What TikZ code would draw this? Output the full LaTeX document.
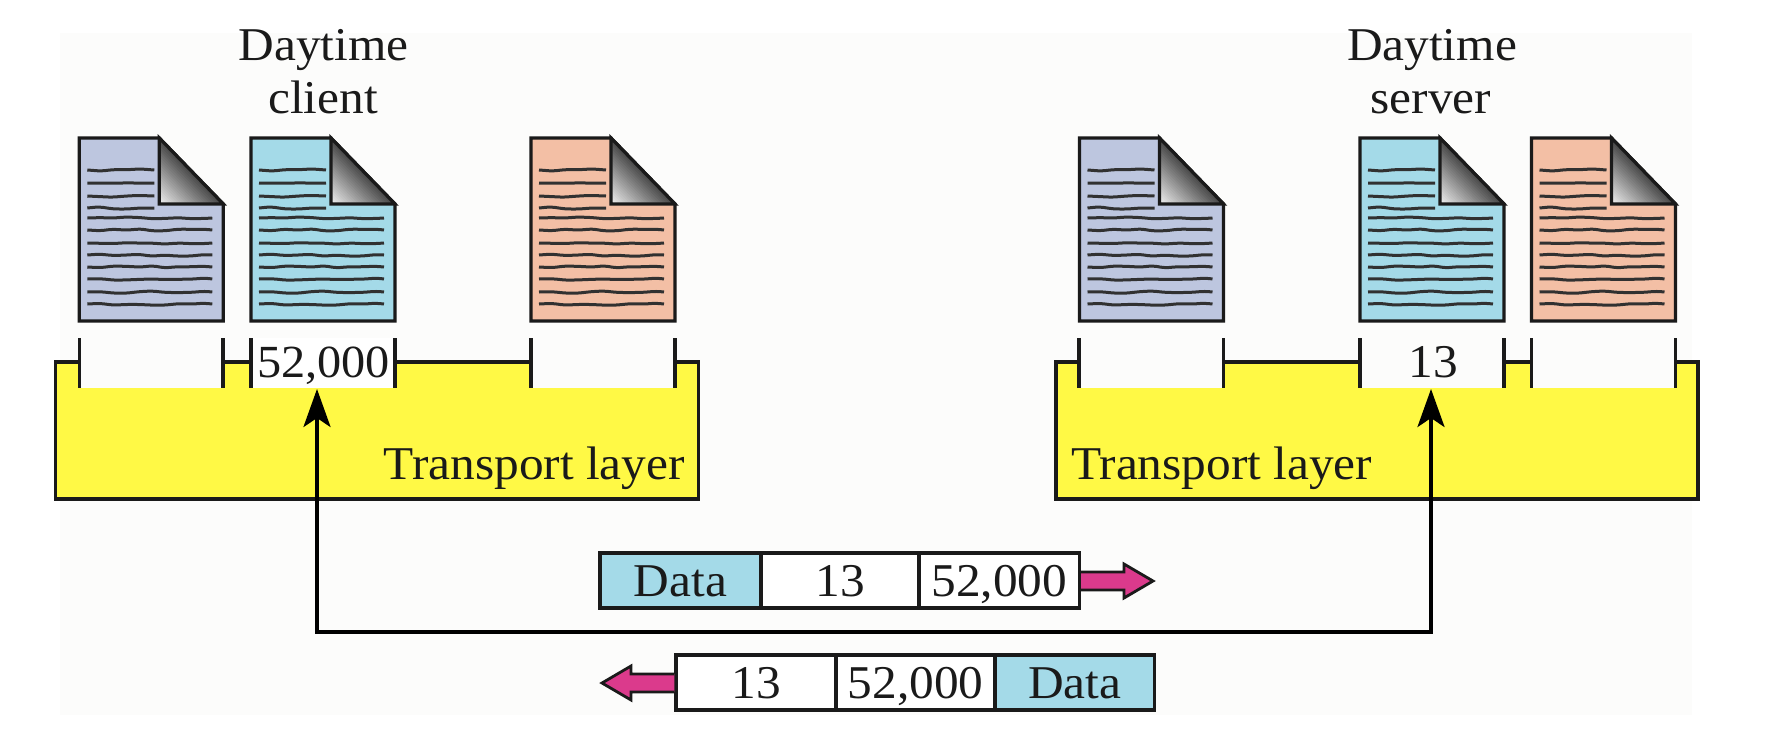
\documentclass[tikz,border=0pt]{standalone}
\usepackage{fontspec}
\setmainfont[FakeStretch=1.05]{Liberation Serif}
\usetikzlibrary{arrows.meta,decorations.pathmorphing}
\definecolor{inkc}{HTML}{1A1A1A}
\definecolor{bgc}{HTML}{FCFCFB}
\definecolor{docslate}{HTML}{BDC6DF}
\definecolor{docblue}{HTML}{A4DAE8}
\definecolor{docpeach}{HTML}{F3BFA5}
\definecolor{layerc}{HTML}{FFF945}
\definecolor{pinkc}{HTML}{DB3A8C}
\tikzset{
  x=1pt,y=-1pt,
  lbl/.style={font=\fontsize{47}{50}\selectfont,text=inkc,inner sep=0pt,anchor=base},
  cell/.style={draw=inkc,line width=3.2pt,minimum height=55pt,inner sep=0pt,
    font=\fontsize{47}{50}\selectfont,text=inkc,text height=31pt,text depth=0pt},
  wire/.style={draw=inkc,line width=3.2pt},
  flow/.style={draw=black,line width=3.6pt},
  pinkarrow/.style={draw=inkc,line width=2.8pt,fill=pinkc,line join=miter},
  txtline/.style={draw=inkc!90!white,line width=3pt,decorate,
    decoration={random steps,segment length=13pt,amplitude=1.2pt},rounded corners=4pt},
  docpic/.pic={
    \pgfmathsetseed{4711}
    \draw[wire,fill=#1,line join=miter] (0,0) -- (80,0) -- (144,66) -- (144,183) -- (0,183) -- cycle;
    \begin{scope}
      \clip (80,0) -- (144,66) -- (80,66) -- cycle;
      \foreach \tt in {0,1,...,24}{
        \pgfmathsetmacro{\pp}{4+68*\tt/24}
        \pgfmathsetmacro{\cx}{80+32*\tt/24}
        \pgfmathsetmacro{\cy}{66-33*\tt/24}
        \draw[line width=2.8pt,draw=black!\pp] (\cx-64,\cy-66) -- (\cx+64,\cy+66);
      }
    \end{scope}
    \draw[wire,line join=miter] (80,0) -- (144,66) -- (80,66) -- cycle;
    \foreach \yy in {32,45,58,70} \draw[txtline] (8,\yy) -- (75,\yy);
    \foreach \yy in {80,92,105,117,129,141,154,166} \draw[txtline] (8,\yy) -- (133,\yy);
  }
}
\newcommand{\portticks}[2]{%
  \draw[wire] (#1,338) -- (#1,388);
  \draw[wire] (#2,338) -- (#2,388);}
\begin{document}
\begin{tikzpicture}
\useasboundingbox (0,0) rectangle (1780,752);
\fill[white] (0,0) rectangle (1780,752);
\fill[bgc] (60,33) rectangle (1692,715);

% client layer
\fill[layerc] (55.6,362) -- (79.3,362) -- (79.3,388) -- (223,388) -- (223,362) -- (251,362) -- (251,388) -- (395,388) -- (395,362)
  -- (531,362) -- (531,388) -- (675,388) -- (675,362) -- (698.5,362) -- (698.5,499) -- (55.6,499) -- cycle;
\fill[white] (251,338) rectangle (395,388);
\draw[wire,line join=miter] (79.3,362) -- (55.6,362) -- (55.6,499) -- (698.5,499) -- (698.5,362) -- (675,362);
\draw[wire] (223,362) -- (251,362);
\draw[wire] (395,362) -- (531,362);
\portticks{79.3}{223}
\portticks{251}{395}
\portticks{531}{675}

% server layer
\fill[layerc] (1056,362) -- (1079,362) -- (1079,388) -- (1223.5,388) -- (1223.5,362) -- (1360,362) -- (1360,388) -- (1504,388) -- (1504,362)
  -- (1531.5,362) -- (1531.5,388) -- (1675.7,388) -- (1675.7,362) -- (1698,362) -- (1698,499) -- (1056,499) -- cycle;
\draw[wire,line join=miter] (1079,362) -- (1056,362) -- (1056,499) -- (1698,499) -- (1698,362) -- (1675.7,362);
\draw[wire] (1223.5,362) -- (1360,362);
\draw[wire] (1504,362) -- (1531.5,362);
\portticks{1079}{1223.5}
\portticks{1360}{1504}
\portticks{1531.5}{1675.7}

% documents
\pic at (79.3,138) {docpic=docslate};
\pic at (251,138) {docpic=docblue};
\pic at (531,138) {docpic=docpeach};
\pic at (1079.5,138) {docpic=docslate};
\pic at (1360,138) {docpic=docblue};
\pic at (1531.5,138) {docpic=docpeach};

% labels
\node[lbl] (clientA) at (323.5,60) {Daytime};
\node[lbl] (clientB) at (323,113) {client};
\node[lbl] (serverA) at (1432,60) {Daytime};
\node[lbl] (serverB) at (1431,113) {server};
\node[lbl,font=\fontsize{46}{50}\selectfont] (portC) at (323.5,377) {52,000};
\node[lbl] (portS) at (1433,377) {13};
\node[lbl,anchor=base east] (layerC) at (685,479) {Transport layer};
\node[lbl,anchor=base west] (layerS) at (1071,479) {Transport layer};

% connector
\coordinate (tipC) at (317,389);
\coordinate (tipS) at (1431,389);
\coordinate (busY) at (874,631.7);
\draw[flow,{Stealth[length=38pt,width=27pt,inset=9pt]}-{Stealth[length=38pt,width=27pt,inset=9pt]}]
  (tipC) -- (tipC |- busY) -- (tipS |- busY) -- (tipS);

% packets
\node[cell,fill=docblue,minimum width=161pt] (t1) at (680.5,580.5) {Data};
\node[cell,fill=white,minimum width=158pt] (t2) at (840,580.5) {13};
\node[cell,fill=white,minimum width=160.4pt] (t3) at (999.2,580.5) {52,000};
\node[cell,fill=white,minimum width=160pt] (b1) at (756,682.5) {13};
\node[cell,fill=white,minimum width=159pt] (b2) at (915.5,682.5) {52,000};
\node[cell,fill=docblue,minimum width=159.5pt] (b3) at (1074.7,682.5) {Data};

% direction arrows
\draw[pinkarrow] (t3.east |- 0,572) -- (1124,572) -- (1124,564) -- (1153,581) -- (1124,598) -- (1124,590) -- (t3.east |- 0,590);
\draw[pinkarrow] (b1.west |- 0,674) -- (631,674) -- (631,666) -- (602,683) -- (631,700) -- (631,692) -- (b1.west |- 0,692);
\end{tikzpicture}
\end{document}
